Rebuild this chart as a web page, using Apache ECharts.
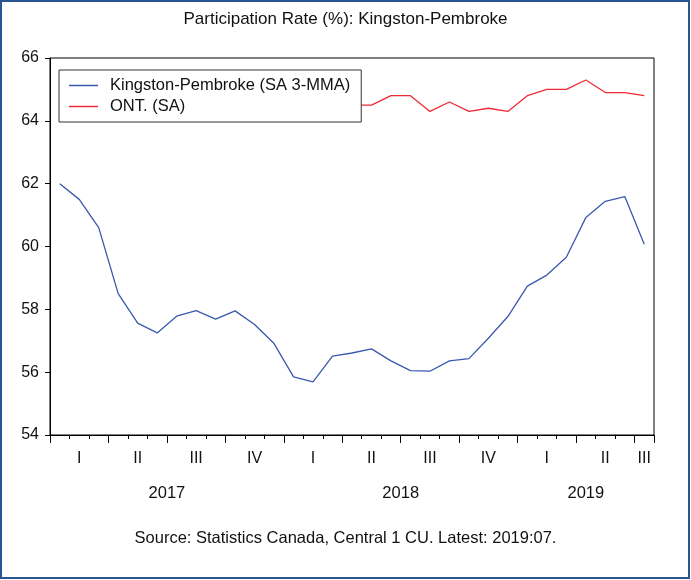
<!DOCTYPE html>
<html>
<head>
<meta charset="utf-8">
<script src="https://cdn.jsdelivr.net/npm/echarts@6/dist/echarts.min.js"></script>
<style>
  html, body { margin: 0; padding: 0; background: #fff; }
  #main { width: 691px; height: 580px; }
</style>
</head>
<body>
<div id="main"></div>
<script>
// months Jan 2017 .. Jul 2019
var months = ['2017-01','2017-02','2017-03','2017-04','2017-05','2017-06','2017-07','2017-08','2017-09','2017-10','2017-11','2017-12',
              '2018-01','2018-02','2018-03','2018-04','2018-05','2018-06','2018-07','2018-08','2018-09','2018-10','2018-11','2018-12',
              '2019-01','2019-02','2019-03','2019-04','2019-05','2019-06','2019-07'];
var kingston = [62.0, 61.5, 60.6, 58.5, 57.56, 57.25, 57.78, 57.96, 57.69, 57.95, 57.52, 56.91,
                55.85, 55.69, 56.51, 56.61, 56.74, 56.36, 56.05, 56.03, 56.36, 56.43, 57.08, 57.77,
                58.74, 59.09, 59.66, 60.92, 61.44, 61.59, 60.07];
// first months sit behind the legend box
var ontario = [64.9, 64.7, 64.9, 64.8, 64.6, 64.7, 64.8, 64.7, 64.6, 64.5, 64.6, 64.7,
               64.6, 64.5, 64.6, 64.5, 64.5, 64.8, 64.8, 64.3, 64.6, 64.3, 64.4, 64.3,
               64.8, 65.0, 65.0, 65.3, 64.9, 64.9, 64.8];
var quarterNames = ['I', 'II', 'III', 'IV'];
var years = ['2017', '2018', '2019'];
var yTicks = [54, 56, 58, 60, 62, 64, 66];

// label each quarter at its middle month
var quarterLabelIdx = {};
(function () {
    var groups = {};
    months.forEach(function (m, i) {
        var q = m.slice(0, 4) + 'Q' + Math.floor((parseInt(m.slice(5), 10) - 1) / 3);
        (groups[q] = groups[q] || []).push(i);
    });
    for (var k in groups) {
        var g = groups[k];
        quarterLabelIdx[g[Math.floor((g.length - 1) / 2)]] = true;
    }
})();

// year label at the centre of its months (value axis in band units)
var yearPos = {};
years.forEach(function (y) {
    var first = -1, n = 0;
    months.forEach(function (m, i) {
        if (m.slice(0, 4) === y) { if (first < 0) first = i; n++; }
    });
    yearPos[first + n / 2] = y;
});

var font = '"Liberation Sans", Arial, sans-serif';
var myChart = echarts.init(document.getElementById('main'));
var option = {
    backgroundColor: '#fff',
    animation: false,
    title: [{
        text: 'Participation Rate (%): Kingston-Pembroke',
        left: 'center', top: 6,
        textStyle: { fontFamily: font, fontSize: 17, fontWeight: 'normal', color: '#111' }
    }, {
        text: 'Source: Statistics Canada, Central 1 CU. Latest: 2019:07.',
        left: 'center', top: 525,
        textStyle: { fontFamily: font, fontSize: 16.5, fontWeight: 'normal', color: '#111' }
    }],
    graphic: [{
        type: 'rect', silent: true,
        shape: { x: 1, y: 1, width: 688, height: 577 },
        style: { fill: 'none', stroke: '#2a5590', lineWidth: 2 }
    }],
    legend: {
        orient: 'vertical',
        left: 59, top: 70,
        padding: [7, 11, 7, 10],
        itemGap: 4,
        itemWidth: 29, itemHeight: 1.5,
        icon: 'rect',
        backgroundColor: '#fff',
        borderColor: '#333', borderWidth: 1,
        textStyle: { fontFamily: font, fontSize: 16.5, color: '#111', padding: [0, 0, 0, 7] },
        data: ['Kingston-Pembroke (SA 3-MMA)', 'ONT. (SA)']
    },
    grid: {
        left: 50, right: 37, top: 58, bottom: 145,
        show: true, borderColor: '#000', borderWidth: 1
    },
    xAxis: [{
        type: 'category', data: months, boundaryGap: true, position: 'bottom',
        axisLine: { show: true, lineStyle: { color: '#000', width: 1 } },
        axisTick: { show: true, inside: false, interval: 0, length: 4, lineStyle: { color: '#000', width: 1 } },
        axisLabel: {
            interval: function (i) { return !!quarterLabelIdx[i]; },
            formatter: function (v) { return quarterNames[Math.floor((parseInt(v.slice(5), 10) - 1) / 3)]; },
            margin: 16, fontFamily: font, fontSize: 16, color: '#111'
        },
        splitLine: { show: false }
    }, {
        type: 'category', data: months, boundaryGap: true, position: 'bottom',
        axisLine: { show: false },
        axisTick: { show: true, inside: false, interval: function (i) { return i % 3 === 0; }, length: 8, lineStyle: { color: '#000', width: 1 } },
        axisLabel: { show: false },
        splitLine: { show: false }
    }, {
        type: 'value', min: 0, max: months.length, interval: 0.5, position: 'bottom',
        axisLine: { show: false }, axisTick: { show: false }, splitLine: { show: false },
        axisLabel: {
            showMinLabel: true, showMaxLabel: true,
            formatter: function (v) { return yearPos[v] || ''; },
            margin: 50, fontFamily: font, fontSize: 16.5, color: '#111'
        }
    }],
    yAxis: {
        type: 'value', min: yTicks[0], max: yTicks[yTicks.length - 1], interval: 2,
        axisLine: { show: true, lineStyle: { color: '#000' } },
        axisTick: { show: true, inside: false, length: 5, lineStyle: { color: '#000', width: 1 } },
        axisLabel: { margin: 11, fontFamily: font, fontSize: 16, color: '#111' },
        splitLine: { show: false }
    },
    series: [{
        name: 'Kingston-Pembroke (SA 3-MMA)', type: 'line', xAxisIndex: 0,
        data: kingston, symbol: 'none',
        lineStyle: { color: '#3b59ad', width: 1.3 }, itemStyle: { color: '#3b59ad' }
    }, {
        name: 'ONT. (SA)', type: 'line', xAxisIndex: 0,
        data: ontario, symbol: 'none',
        lineStyle: { color: '#ee2a33', width: 1.3 }, itemStyle: { color: '#ee2a33' }
    }]
};
myChart.setOption(option);
</script>
</body>
</html>
